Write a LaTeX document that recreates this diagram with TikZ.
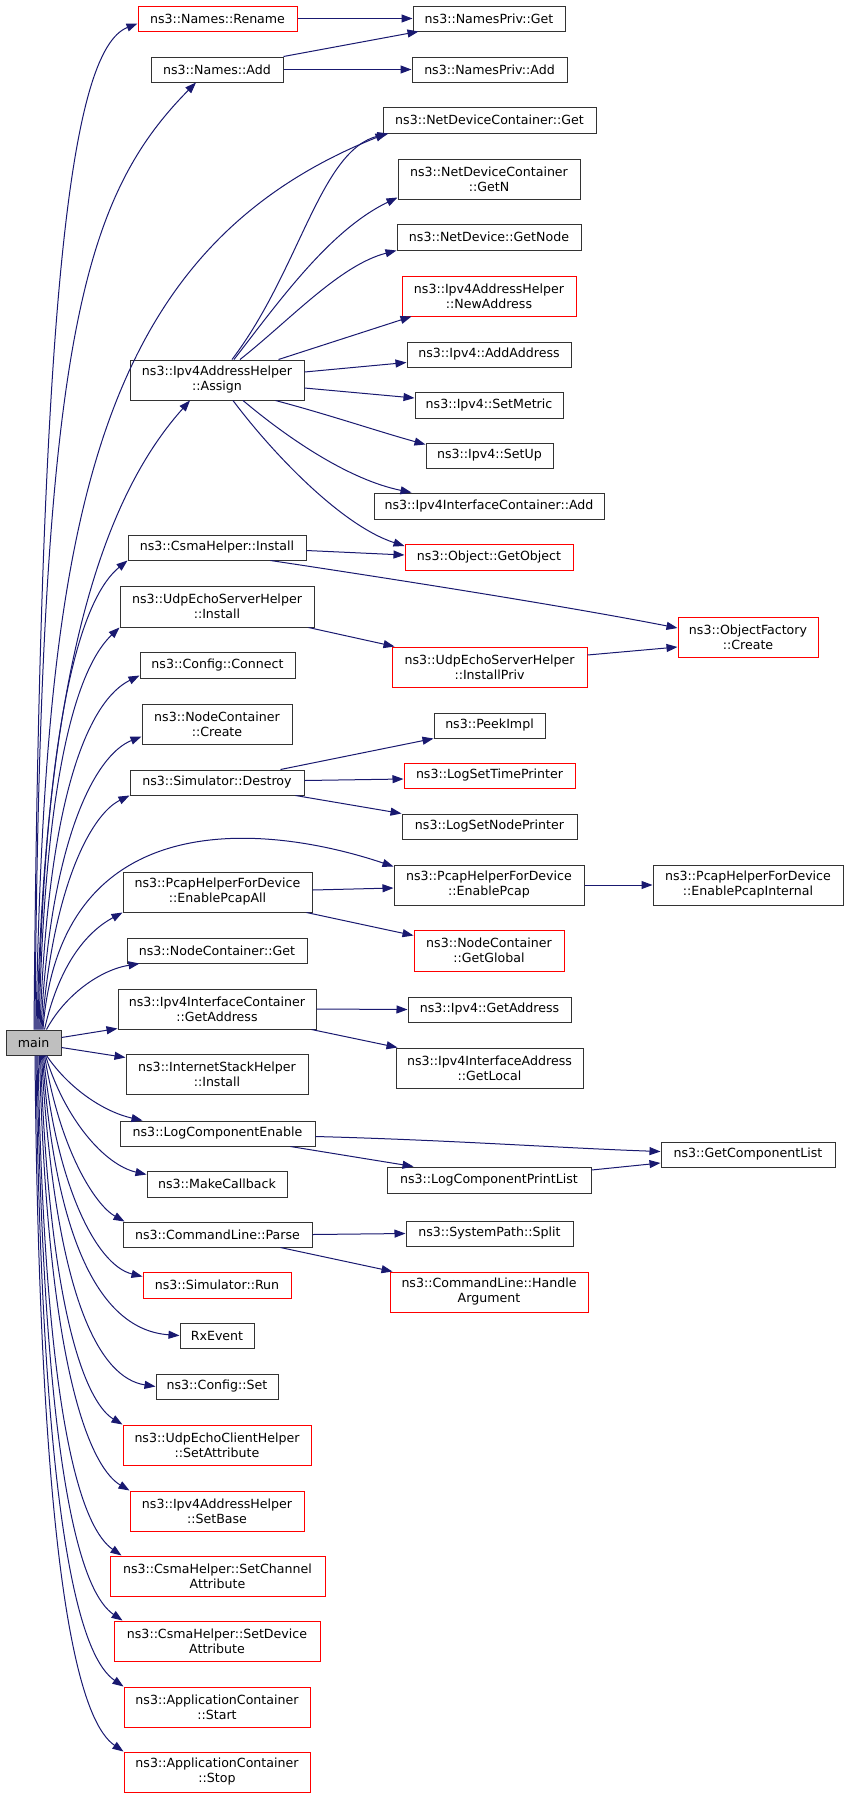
\documentclass[tikz,border=0pt]{standalone}
\usepackage{fontspec}
\setmainfont{DejaVu Sans}
\usetikzlibrary{arrows.meta,calc}
\definecolor{edgeblue}{RGB}{25,25,112}
\definecolor{boxgray}{RGB}{191,191,191}
\tikzset{
  fn/.style={draw=black!80, line width=1pt, fill=white, inner sep=0pt, align=center,
    font=\fontsize{12.6}{15}\selectfont, text=black},
  fnred/.style={fn, draw=red},
  fnmain/.style={fn, fill=boxgray},
  call/.style={draw=edgeblue, line width=1pt, -{Triangle[length=11pt,width=8pt]}}
}
\newcommand\fnode[6]{\node[#1, minimum width={#4-#2}, minimum height={#5-#3}] (#6) at ({(#2+#4)/2},{(#3+#5)/2})}
\begin{document}
\begin{tikzpicture}[x=1pt,y=-1pt]
\fill[white] (0,0) rectangle (848,1797);
\useasboundingbox (0,0) rectangle (848,1797);

\fnode{fnmain}{6}{1030}{61}{1055}{main}{main};
\fnode{fnred}{138}{6}{297}{31}{Rename}{ns3::Names::Rename};
\fnode{fn}{151}{57}{283}{82}{NamesAdd}{ns3::Names::Add};
\fnode{fn}{413}{6}{565}{31}{PrivGet}{ns3::NamesPriv::Get};
\fnode{fn}{412}{57}{567}{82}{PrivAdd}{ns3::NamesPriv::Add};
\fnode{fn}{383}{107}{596}{133}{NDCGet}{ns3::NetDeviceContainer::Get};
\fnode{fn}{398}{159}{580}{199}{NDCGetN}{ns3::NetDeviceContainer\\::GetN};
\fnode{fn}{397}{224}{581}{250}{GetNode}{ns3::NetDevice::GetNode};
\fnode{fnred}{402}{276}{576}{316}{NewAddress}{ns3::Ipv4AddressHelper\\::NewAddress};
\fnode{fn}{407}{342}{571}{367}{AddAddress}{ns3::Ipv4::AddAddress};
\fnode{fn}{415}{392}{563}{418}{SetMetric}{ns3::Ipv4::SetMetric};
\fnode{fn}{426}{443}{553}{468}{SetUp}{ns3::Ipv4::SetUp};
\fnode{fn}{374}{493}{604}{519}{IfcAdd}{ns3::Ipv4InterfaceContainer::Add};
\fnode{fnred}{405}{544}{573}{570}{GetObject}{ns3::Object::GetObject};
\fnode{fn}{130}{360}{304}{400}{Assign}{ns3::Ipv4AddressHelper\\::Assign};
\fnode{fn}{128}{535}{306}{560}{CsmaInstall}{ns3::CsmaHelper::Install};
\fnode{fn}{120}{586}{314}{627}{SrvInstall}{ns3::UdpEchoServerHelper\\::Install};
\fnode{fnred}{392}{647}{587}{687}{InstallPriv}{ns3::UdpEchoServerHelper\\::InstallPriv};
\fnode{fnred}{678}{617}{818}{657}{OFCreate}{ns3::ObjectFactory\\::Create};
\fnode{fn}{140}{652}{295}{678}{CfgConnect}{ns3::Config::Connect};
\fnode{fn}{142}{704}{292}{744}{NCCreate}{ns3::NodeContainer\\::Create};
\fnode{fn}{130}{770}{304}{795}{SimDestroy}{ns3::Simulator::Destroy};
\fnode{fn}{434}{713}{545}{738}{PeekImpl}{ns3::PeekImpl};
\fnode{fnred}{404}{763}{575}{788}{LogTime}{ns3::LogSetTimePrinter};
\fnode{fn}{402}{814}{577}{839}{LogNode}{ns3::LogSetNodePrinter};
\fnode{fn}{123}{872}{312}{912}{PcapAll}{ns3::PcapHelperForDevice\\::EnablePcapAll};
\fnode{fn}{394}{865}{584}{905}{Pcap}{ns3::PcapHelperForDevice\\::EnablePcap};
\fnode{fn}{653}{865}{843}{905}{PcapInt}{ns3::PcapHelperForDevice\\::EnablePcapInternal};
\fnode{fnred}{414}{930}{564}{971}{GetGlobal}{ns3::NodeContainer\\::GetGlobal};
\fnode{fn}{127}{938}{307}{963}{NCGet}{ns3::NodeContainer::Get};
\fnode{fn}{118}{989}{316}{1029}{IfcGetAddr}{ns3::Ipv4InterfaceContainer\\::GetAddress};
\fnode{fn}{408}{997}{571}{1022}{IpGetAddr}{ns3::Ipv4::GetAddress};
\fnode{fn}{396}{1048}{583}{1088}{GetLocal}{ns3::Ipv4InterfaceAddress\\::GetLocal};
\fnode{fn}{126}{1054}{308}{1094}{ISHInstall}{ns3::InternetStackHelper\\::Install};
\fnode{fn}{120}{1121}{315}{1146}{LCEnable}{ns3::LogComponentEnable};
\fnode{fn}{661}{1142}{835}{1167}{GCList}{ns3::GetComponentList};
\fnode{fn}{387}{1167}{591}{1193}{LCPrint}{ns3::LogComponentPrintList};
\fnode{fn}{147}{1171}{287}{1197}{MkCb}{ns3::MakeCallback};
\fnode{fn}{123}{1222}{312}{1247}{CLParse}{ns3::CommandLine::Parse};
\fnode{fn}{406}{1221}{573}{1246}{SPSplit}{ns3::SystemPath::Split};
\fnode{fnred}{390}{1272}{588}{1312}{HandleArg}{ns3::CommandLine::Handle\\Argument};
\fnode{fnred}{143}{1272}{291}{1298}{SimRun}{ns3::Simulator::Run};
\fnode{fn}{180}{1323}{254}{1348}{RxEvent}{RxEvent};
\fnode{fn}{156}{1374}{278}{1399}{CfgSet}{ns3::Config::Set};
\fnode{fnred}{123}{1425}{311}{1465}{SetAttr}{ns3::UdpEchoClientHelper\\::SetAttribute};
\fnode{fnred}{130}{1491}{304}{1531}{SetBase}{ns3::Ipv4AddressHelper\\::SetBase};
\fnode{fnred}{110}{1556}{325}{1596}{SetChan}{ns3::CsmaHelper::SetChannel\\Attribute};
\fnode{fnred}{114}{1621}{320}{1661}{SetDev}{ns3::CsmaHelper::SetDevice\\Attribute};
\fnode{fnred}{124}{1687}{310}{1727}{AppStart}{ns3::ApplicationContainer\\::Start};
\fnode{fnred}{124}{1752}{310}{1792}{AppStop}{ns3::ApplicationContainer\\::Stop};

% main -> upward
\draw[call] ($(main.north)+(0.5,0)$) .. controls (40,300) and (70,50) .. ($(Rename.west)+(0,5)$);
\draw[call] ($(main.north)+(1.5,0)$) .. controls (40,350) and (80,200) .. ($(NamesAdd.south)+(-21,0)$);
\draw[call] ($(main.north)+(2.5,0)$) .. controls (45,520) and (95,250) .. ($(NDCGet.south west)+(4,0)$);
\draw[call] ($(main.north)+(3.5,0)$) .. controls (45,650) and (110,490) .. ($(Assign.south)+(-27,0)$);
\draw[call] ($(main.north)+(4.5,0)$) .. controls (45,700) and (85,595) .. (CsmaInstall.south west);
\draw[call] ($(main.north)+(5.5,0)$) .. controls (45,760) and (80,665) .. (SrvInstall.south west);
\draw[call] ($(main.north)+(6.5,0)$) .. controls (48,790) and (90,700) .. ($(CfgConnect.south west)+(0,-3)$);
\draw[call] ($(main.north)+(7.5,0)$) .. controls (50,840) and (95,755) .. ($(NCCreate.south west)+(0,-8)$);
\draw[call] ($(main.north)+(8.5,0)$) .. controls (52,890) and (90,815) .. (SimDestroy.south west);
\draw[call] ($(main.north)+(9.5,0)$) .. controls (60,800) and (270,825) .. ($(Pcap.north west)+(0,2)$);
\draw[call] ($(main.north)+(11,0)$) .. controls (60,960) and (90,930) .. (PcapAll.south west);
\draw[call] ($(main.north)+(13,0)$) .. controls (65,995) and (100,970) .. ($(NCGet.south west)+(13,0)$);
% main -> right
\draw[call] ($(main.east)+(0,-5)$) -- ($(IfcGetAddr.south west)+(0,-1)$);
\draw[call] ($(main.east)+(0,5)$) -- ($(ISHInstall.north west)+(0,4)$);
% main -> downward
\draw[call] ($(main.south)+(13,0)$) .. controls (70,1090) and (105,1112) .. ($(LCEnable.north west)+(23,0)$);
\draw[call] ($(main.south)+(12,0)$) .. controls (65,1120) and (105,1165) .. ($(MkCb.north west)+(0,4)$);
\draw[call] ($(main.south)+(11,0)$) .. controls (60,1150) and (95,1205) .. ($(CLParse.north west)+(2,0)$);
\draw[call] ($(main.south)+(10,0)$) .. controls (55,1180) and (95,1265) .. ($(SimRun.north west)+(0,5)$);
\draw[call] ($(main.south)+(9,0)$) .. controls (55,1240) and (100,1330) .. (RxEvent.west);
\draw[call] ($(main.south)+(8,0)$) .. controls (55,1300) and (100,1378) .. (CfgSet.west);
\draw[call] ($(main.south)+(7,0)$) .. controls (50,1330) and (90,1405) .. (SetAttr.north west);
\draw[call] ($(main.south)+(6,0)$) .. controls (48,1390) and (95,1470) .. (SetBase.north west);
\draw[call] ($(main.south)+(4.5,0)$) .. controls (45,1440) and (85,1530) .. ($(SetChan.north west)+(12,0)$);
\draw[call] ($(main.south)+(3.5,0)$) .. controls (44,1500) and (85,1595) .. ($(SetDev.north west)+(9,0)$);
\draw[call] ($(main.south)+(2.5,0)$) .. controls (42,1560) and (85,1660) .. (AppStart.north west);
\draw[call] ($(main.south)+(1.5,0)$) .. controls (40,1620) and (85,1725) .. (AppStop.north west);

% secondary calls
\draw[call] (Rename.east) -- (PrivGet.west);
\draw[call] (NamesAdd.north east) -- ($(PrivGet.south west)+(6,0)$);
\draw[call] (NamesAdd.east) -- (PrivAdd.west);
\draw[call] ($(Assign.north)+(15,0)$) .. controls (300,270) and (320,150) .. ($(NDCGet.south west)+(6,0)$);
\draw[call] ($(Assign.north)+(17,0)$) .. controls (280,300) and (330,230) .. ($(NDCGetN.south west)+(0,-2)$);
\draw[call] ($(Assign.north)+(23,0)$) .. controls (290,320) and (340,265) .. (GetNode.south west);
\draw[call] ($(Assign.north east)+(-26,0)$) -- ($(NewAddress.south west)+(10,0)$);
\draw[call] ($(Assign.east)+(0,-8)$) -- ($(AddAddress.west)+(0,8)$);
\draw[call] ($(Assign.east)+(0,8)$) -- ($(SetMetric.west)+(0,-7)$);
\draw[call] ($(Assign.south east)+(-29,0)$) .. controls (330,415) and (380,432) .. ($(SetUp.north west)+(0,2)$);
\draw[call] ($(Assign.south)+(26,0)$) .. controls (290,440) and (350,480) .. ($(IfcAdd.north west)+(38,0)$);
\draw[call] ($(Assign.south)+(16,0)$) .. controls (270,450) and (340,525) .. ($(GetObject.west)+(0,-11)$);
\draw[call] ($(CsmaInstall.east)+(0,3)$) -- ($(GetObject.west)+(0,-2)$);
\draw[call] ($(CsmaInstall.south east)+(-36,0)$) .. controls (380,577) and (560,605) .. ($(OFCreate.west)+(0,-9)$);
\draw[call] ($(SrvInstall.south east)+(-6,0)$) -- ($(InstallPriv.north west)+(3,0)$);
\draw[call] ($(InstallPriv.east)+(0,-12)$) -- ($(OFCreate.west)+(0,10)$);
\draw[call] ($(SimDestroy.north east)+(-24,0)$) -- (PeekImpl.south west);
\draw[call] ($(SimDestroy.east)+(0,-2)$) -- ($(LogTime.west)+(0,3.5)$);
\draw[call] ($(SimDestroy.south east)+(-9,0)$) -- (LogNode.north west);
\draw[call] ($(PcapAll.east)+(0,-2)$) -- ($(Pcap.west)+(0,3)$);
\draw[call] ($(PcapAll.south east)+(-6,0)$) -- ($(GetGlobal.north west)+(0,6)$);
\draw[call] (Pcap.east) -- (PcapInt.west);
\draw[call] (IfcGetAddr.east) -- (IpGetAddr.west);
\draw[call] ($(IfcGetAddr.south east)+(-5,0)$) -- ($(GetLocal.north west)+(2,0)$);
\draw[call] ($(LCEnable.east)+(0,3)$) .. controls (450,1140) and (560,1148) .. ($(GCList.west)+(0,-3)$);
\draw[call] ($(LCEnable.south east)+(-25,0)$) -- ($(LCPrint.north west)+(27,0)$);
\draw[call] ($(LCPrint.east)+(0,-10)$) -- ($(GCList.west)+(0,8.5)$);
\draw[call] (CLParse.east) -- (SPSplit.west);
\draw[call] ($(CLParse.south east)+(-32,0)$) -- ($(HandleArg.north west)+(3,0)$);
\end{tikzpicture}
\end{document}
